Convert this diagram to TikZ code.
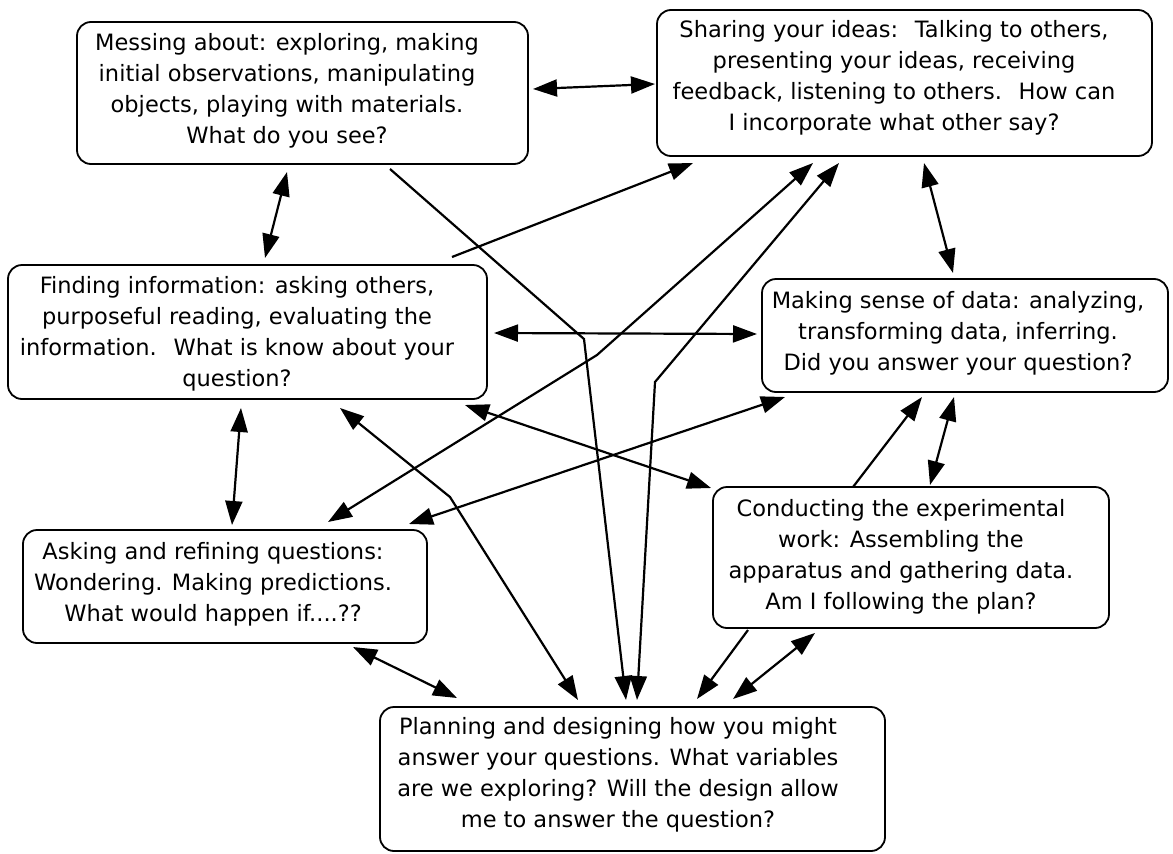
\documentclass[tikz,border=0pt]{standalone}
\usepackage{fontspec}
\setmainfont{DejaVu Sans}
\usetikzlibrary{arrows.meta,calc}
\begin{document}
\begin{tikzpicture}[x=1pt,y=-1pt,
  stage/.style={draw,line width=1.8pt,rounded corners=14pt,inner sep=0pt,outer sep=0pt},
  boxtext/.style={align=center,inner sep=0pt,font=\fontsize{22.5}{31}\selectfont},
  link/.style={line width=2.2pt},
  arrowone/.style={link,-{Triangle[length=24pt,width=17pt]}},
  arrowtwo/.style={link,{Triangle[length=24pt,width=17pt]}-{Triangle[length=24pt,width=17pt]}},
]
\useasboundingbox (0,0) rectangle (1173,854);

% stage boxes
\node[stage,minimum width=451pt,minimum height=142pt] (mess)  at (302.5,93)  {};
\node[stage,minimum width=495pt,minimum height=146pt] (share) at (904.5,83)  {};
\node[stage,minimum width=479pt,minimum height=134pt] (find)  at (247.5,332) {};
\node[stage,minimum width=406pt,minimum height=113pt] (make)  at (965,335.5) {};
\node[stage,minimum width=404pt,minimum height=113pt] (ask)   at (225,586.5) {};
\node[stage,minimum width=396pt,minimum height=141pt] (cond)  at (911,557.5) {};
\node[stage,minimum width=505pt,minimum height=144pt] (plan)  at (632.5,779) {};

% stage texts
\node[boxtext] (mess-t) at (287,91) {Messing about: exploring, making\\
  initial observations, manipulating\\ objects, playing with materials.\\ What do you see?};
\node[boxtext] (share-t) at (894,78) {Sharing your ideas: \ Talking to others,\\
  presenting your ideas, receiving\\ feedback, listening to others. \ How can\\
  I incorporate what other say?};
\node[boxtext] (find-t) at (237,334) {Finding information: asking others,\\
  purposeful reading, evaluating the\\ information. \ What is know about your\\ question?};
\node[boxtext] (make-t) at (958,333) {Making sense of data: analyzing,\\
  transforming data, inferring.\\ Did you answer your question?};
\node[boxtext] (ask-t) at (213,584) {Asking and refining questions:\\
  Wondering. Making predictions.\\ What would happen if....??};
\node[boxtext] (cond-t) at (901,557) {Conducting the experimental\\
  work: Assembling the\\ apparatus and gathering data.\\ Am I following the plan?};
\node[boxtext] (plan-t) at (618,775) {Planning and designing how you might\\
  answer your questions. What variables\\ are we exploring? Will the design allow\\
  me to answer the question?};

% bend points of the long connectors
\coordinate (bendMP) at (584,339);
\coordinate (bendFP) at (450,497);
\coordinate (bendAS) at (597,355);
\coordinate (bendPS) at (655,382);

% connectors
\draw[arrowtwo] ($(mess.east)+(5,-4)$) -- ($(share.west)+(-2,1)$);
\draw[arrowtwo] ($(mess.south)+(-15.5,8)$) -- ($(find.north)+(17.5,-7)$);
\draw[arrowone] ($(mess.south)+(87.5,5)$) -- (bendMP) -- ($(plan.north)+(-6.5,-7)$);
\draw[arrowone] ($(find.north)+(204.5,-8)$) -- ($(share.south)+(-211.5,7)$);
\draw[arrowtwo] ($(find.east)+(7,1)$) -- ($(make.west)+(-5,-1.5)$);
\draw[arrowtwo] ($(find.south)+(-6.5,9)$) -- ($(ask.north)+(7,-5)$);
\draw[arrowtwo] ($(find.south)+(92.5,9)$) -- (bendFP) -- ($(plan.north)+(-54.5,-7)$);
\draw[arrowtwo] ($(find.south east)+(-22,6)$) -- ($(cond.north west)+(-2,1)$);
\draw[arrowtwo] ($(ask.north)+(103,-8)$) -- (bendAS) -- ($(share.south)+(-91.5,7)$);
\draw[arrowtwo] ($(make.south west)+(23,5)$) -- ($(ask.north east)+(-18,-6)$);
\draw[arrowtwo] ($(plan.north)+(4.5,-7)$) -- (bendPS) -- ($(share.south)+(-65.5,7)$);
\draw[arrowtwo] ($(share.south)+(19.5,7)$) -- ($(make.north)+(-12,-6)$);
\draw[arrowone] ($(cond.north)+(-58,0)$) -- ($(make.south)+(-43,5)$);
\draw[arrowtwo] ($(make.south)+(-11,5)$) -- ($(cond.north)+(19,-2)$);
\draw[arrowone] ($(cond.south west)+(35,2)$) -- ($(plan.north)+(64.5,-8)$);
\draw[arrowtwo] ($(cond.south west)+(102,5)$) -- ($(plan.north)+(100.5,-8)$);
\draw[arrowtwo] ($(ask.south east)+(-74,4)$) -- ($(plan.north west)+(77,-9)$);
\end{tikzpicture}
\end{document}
